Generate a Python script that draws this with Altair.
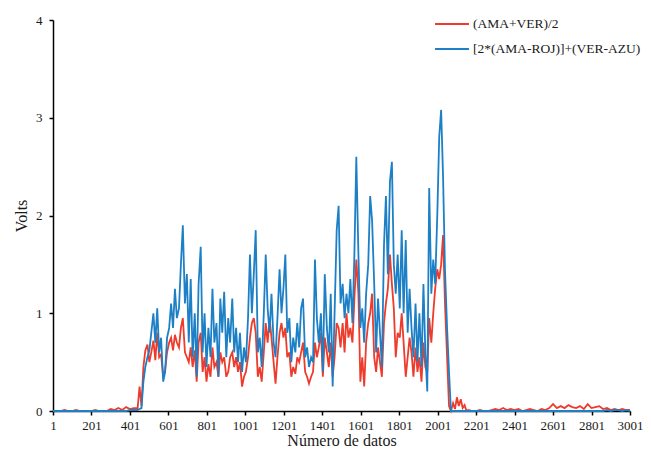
import altair as alt
import pandas as pd

S_RED = "(AMA+VER)/2"
S_BLUE = "[2*(AMA-ROJ)]+(VER-AZU)"

# sample numbers (Número de datos)
pre_x = list(range(1, 442, 20)) + [451]
act_x = [461 + round(10.25 * k) for k in range(158)]
post_x = list(range(2081, 2152, 10)) + list(range(2161, 3002, 20))

red_pre = [0, 0, 0, 0.01, 0, 0, 0.01, 0, 0, 0, 0, 0.01, 0, 0, 0, 0.02, 0.01, 0.03,
           0.01, 0.04, 0.02, 0.03, 0.03, 0.25]
blue_pre = [0] * 20 + [0.01, 0.01, 0.01, 0.02]

blue_act = [
    0.03, 0.30, 0.45, 0.55, 0.62, 0.80, 1.00, 0.70, 1.05, 0.60, 0.75, 0.30, 0.40, 0.75,
    0.85, 1.10, 0.85, 1.25, 0.95, 1.05, 1.50, 1.90, 1.10, 1.40, 0.70, 1.35, 0.55, 1.00,
    0.35, 1.30, 1.68, 0.60, 1.00, 0.45, 0.85, 0.55, 1.25, 0.70, 0.90,
    0.35, 1.15, 0.80, 1.22, 0.55, 0.95, 0.70, 1.15, 0.60, 0.85, 0.50, 0.80, 0.40, 0.65,
    0.50, 0.95, 1.60, 1.00, 1.40, 1.85, 0.60, 0.75, 0.45, 1.00, 1.60, 1.05, 0.80, 1.20,
    0.70, 0.55, 0.95, 1.45, 1.00, 1.25, 1.60, 0.80, 0.95, 0.50, 0.75, 0.60,
    0.90, 0.65, 1.05, 1.15, 0.55, 0.65, 0.45, 0.55, 0.50, 1.55, 0.95, 0.70, 1.00, 0.40,
    1.40, 0.85, 0.60, 1.20, 0.25, 1.00, 1.85, 2.10, 1.10, 1.30, 0.95, 1.20, 1.00, 1.35,
    0.90, 1.60, 2.60, 1.60, 0.85, 1.05, 0.70, 1.20, 1.50, 2.20, 1.95, 1.30,
    0.60, 1.15, 0.80, 0.45, 1.70, 2.20, 1.40, 2.35, 2.55, 1.50, 1.20, 1.60, 1.05, 1.85,
    1.00, 1.75, 0.80, 1.25, 0.85, 0.55, 1.10, 0.50, 1.00, 0.45, 1.30, 0.60, 0.20, 2.28,
    1.20, 1.55, 1.30, 2.00, 2.80, 3.08, 2.40, 1.45, 0.85, 0.40, 0.00,
]
red_act = [
    0.05, 0.45, 0.62, 0.68, 0.50, 0.60, 0.72, 0.52, 0.80, 0.55, 0.58, 0.35, 0.42, 0.60,
    0.70, 0.75, 0.62, 0.78, 0.70, 0.65, 0.85, 0.95, 0.60, 0.55, 0.50, 0.65, 0.45, 0.62,
    0.30, 0.70, 0.80, 0.40, 0.55, 0.30, 0.48, 0.35, 0.65, 0.45, 0.50,
    0.35, 0.60, 0.50, 0.55, 0.35, 0.40, 0.55, 0.60, 0.45, 0.55, 0.40, 0.50, 0.25, 0.35,
    0.40, 0.55, 0.75, 0.90, 0.95, 0.80, 0.35, 0.45, 0.30, 0.60, 0.90, 0.70, 0.95, 0.75,
    0.50, 0.28, 0.55, 0.80, 0.90, 0.75, 0.85, 0.55, 0.60, 0.35, 0.45, 0.38,
    0.55, 0.50, 0.60, 0.70, 0.40, 0.35, 0.28, 0.35, 0.40, 0.70, 0.55, 0.65, 0.80, 0.35,
    0.75, 0.60, 0.45, 0.70, 0.35, 0.55, 0.90, 0.85, 0.65, 0.90, 0.60, 1.00, 0.75, 0.85,
    0.70, 1.15, 1.55, 1.20, 0.30, 0.55, 0.25, 0.70, 0.90, 1.00, 1.20, 0.55,
    0.40, 0.65, 0.50, 0.35, 0.90, 1.10, 1.25, 1.60, 1.30, 1.05, 0.55, 0.80, 0.75, 1.00,
    0.70, 0.35, 0.55, 0.75, 0.60, 0.35, 0.65, 0.40, 0.55, 0.30, 0.70, 0.45, 0.40, 0.95,
    0.70, 1.00, 1.25, 1.45, 1.35, 1.50, 1.80, 1.10, 0.55, 0.05, 0.00,
]

red_post = [0.08, 0.02, 0.14, 0.05, 0.12, 0.03, 0.06, 0.0,
            0.01, 0, 0, 0.01, 0, 0, 0.01, 0.02, 0.01, 0.03, 0.01, 0.02, 0.01, 0.02, 0.0,
            0.01, 0.02, 0.01, 0.0, 0.02, 0.01, 0.03, 0.07, 0.03, 0.05, 0.03, 0.06, 0.04,
            0.03, 0.05, 0.02, 0.07, 0.03, 0.04, 0.05, 0.02, 0.03, 0.01, 0.02, 0.01, 0.02,
            0.01, 0.01]
blue_post = [0] * 44 + [0.01, 0, 0.01, 0.01, 0, 0.01, 0]

x_all = pre_x + act_x + post_x
red = red_pre + red_act + red_post
blue = blue_pre + blue_act + blue_post

df = pd.DataFrame({
    "n": x_all + x_all,
    "v": red + blue,
    "s": [S_RED] * len(x_all) + [S_BLUE] * len(x_all),
})

FONT = "Liberation Serif"

color = alt.Color(
    "s:N",
    scale=alt.Scale(domain=[S_RED, S_BLUE], range=["#EE3B2B", "#1D80C6"]),
    legend=alt.Legend(
        title=None, orient="none", legendX=381, legendY=-14,
        symbolType="stroke", symbolSize=1150, symbolStrokeWidth=2,
        labelFont=FONT, labelFontSize=13.5, labelColor="#1a1a1a", labelLimit=0,
        rowPadding=-5, labelOffset=3,
    ),
)

x_ticks = list(range(1, 3002, 200))

base = alt.Chart(df).mark_line(strokeWidth=1.8).encode(
    x=alt.X("n:Q", scale=alt.Scale(domain=[1, 3001], nice=False, zero=False),
            axis=alt.Axis(values=x_ticks, title="Número de datos", labelPadding=4,
                          titlePadding=0, format="d", labelFlush=False)),
    y=alt.Y("v:Q", scale=alt.Scale(domain=[0, 4], nice=False),
            axis=alt.Axis(values=[0, 1, 2, 3, 4], title="Volts", labelPadding=7,
                          titlePadding=6)),
    color=color,
)

red_layer = base.transform_filter(alt.datum.s == S_RED)
blue_layer = base.transform_filter(alt.datum.s == S_BLUE)

chart = alt.layer(red_layer, blue_layer).properties(
    width=577, height=391,
    autosize=alt.AutoSizeParams(type="none"),
    padding={"left": 45, "top": 12, "right": 13, "bottom": 38},
).configure_view(stroke=None).configure_axis(
    grid=False, domainColor="#000000", domainWidth=1.5, tickColor="#000000",
    tickWidth=1.5, tickSize=4, labelFont=FONT, labelFontSize=13,
    labelColor="#1a1a1a", titleFont=FONT, titleFontSize=16,
    titleFontWeight="normal", titleColor="#1a1a1a",
)

chart.save("out.html", embed_options={"renderer": "svg", "actions": False})
